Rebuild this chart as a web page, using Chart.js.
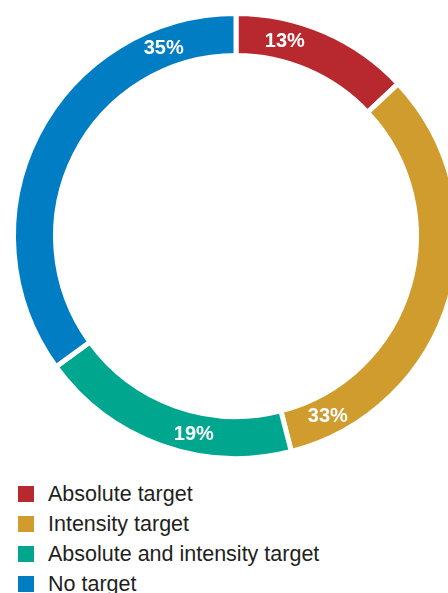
<!DOCTYPE html>
<html>
<head>
<meta charset="utf-8">
<script src="https://cdn.jsdelivr.net/npm/chart.js@4/dist/chart.umd.min.js"></script>
<style>
  html, body { margin: 0; padding: 0; background: #fff; overflow: hidden; width: 448px; height: 593px; }
  #wrap { position: absolute; left: 0; top: 0; width: 472px; height: 472px; }
  #legend { position: absolute; left: 18px; top: 481px; margin: 0; padding: 0; list-style: none;
            font-family: "Liberation Sans", Arial, sans-serif; font-size: 21.5px; color: #231f20; }
  #legend li { height: 30px; line-height: 26px; position: relative; padding-left: 30px; white-space: nowrap; }
  #legend li span.sw { position: absolute; left: 0; top: 5px; width: 16px; height: 16px; }
</style>
</head>
<body>
<div id="wrap"><canvas id="c" width="472" height="472"></canvas></div>
<ul id="legend"></ul>
<script>
const categories = ["Absolute target", "Intensity target", "Absolute and intensity target", "No target"];
const shares = [13, 33, 19, 35];
const colors = ["#B8292F", "#D09C2E", "#00A78E", "#007DC3"];
// where along each slice its percentage label sits (fraction of the slice's sweep)
const labelAlong = [0.30, 0.893, 0.387, 0.833];

const labelPlugin = {
  id: 'sliceLabels',
  afterDatasetsDraw(chart) {
    const ctx = chart.ctx;
    const meta = chart.getDatasetMeta(0);
    ctx.save();
    ctx.fillStyle = '#ffffff';
    ctx.font = 'bold 20px "Liberation Sans", Arial, sans-serif';
    ctx.textAlign = 'center';
    ctx.textBaseline = 'middle';
    meta.data.forEach((arc, i) => {
      const p = arc.getProps(['x', 'y', 'startAngle', 'endAngle', 'innerRadius', 'outerRadius'], true);
      const a = p.startAngle + labelAlong[i] * (p.endAngle - p.startAngle);
      const r = (p.innerRadius + p.outerRadius) / 2;
      ctx.fillText(shares[i] + '%', p.x + r * Math.cos(a), p.y + r * Math.sin(a) + 1);
    });
    ctx.restore();
  }
};

new Chart(document.getElementById('c'), {
  type: 'doughnut',
  data: {
    labels: categories,
    datasets: [{
      data: shares,
      backgroundColor: colors,
      borderColor: '#ffffff',
      borderWidth: 5,
      borderAlign: 'center',
      hoverOffset: 0
    }]
  },
  options: {
    responsive: false,
    animation: false,
    radius: 222.5,
    cutout: (180.5 / 222.5 * 100) + '%',
    layout: { padding: 0 },
    plugins: { legend: { display: false }, tooltip: { enabled: false } },
    events: []
  },
  plugins: [labelPlugin]
});

const ul = document.getElementById('legend');
categories.forEach((c, i) => {
  const li = document.createElement('li');
  const sw = document.createElement('span');
  sw.className = 'sw';
  sw.style.background = colors[i];
  li.appendChild(sw);
  li.appendChild(document.createTextNode(c));
  ul.appendChild(li);
});
</script>
</body>
</html>
